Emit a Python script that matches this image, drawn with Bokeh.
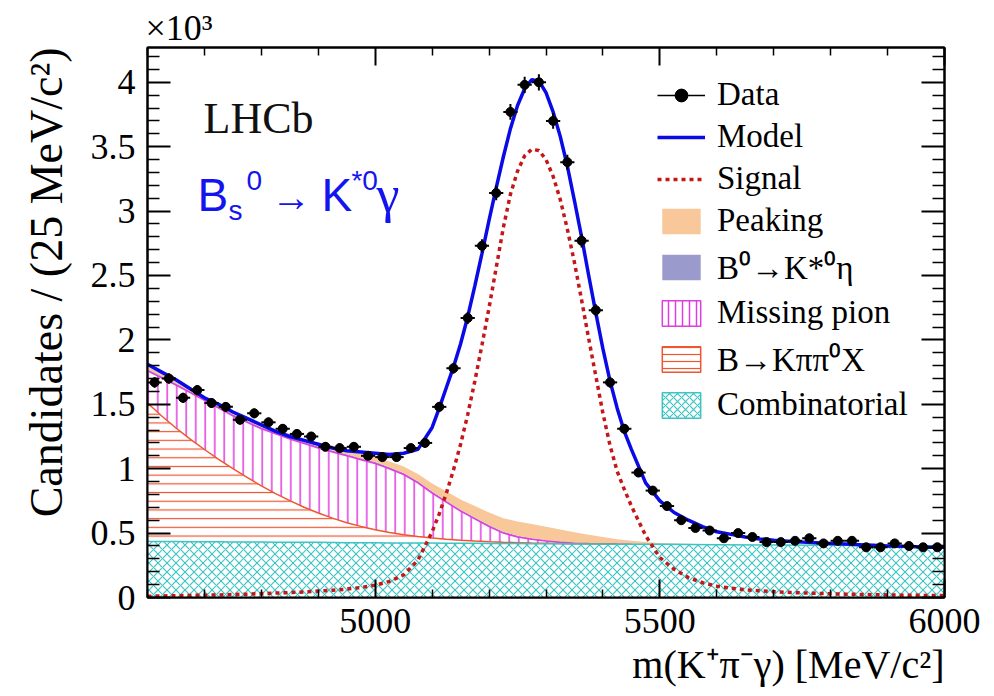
import numpy as np
from bokeh.plotting import figure
from bokeh.models import (ColumnDataSource, FixedTicker, LinearAxis, Range1d, Legend,
                          LegendItem, Label, Title, PrintfTickFormatter)
from bokeh.embed import file_html
from bokeh.resources import INLINE

# ---------------- data (candidates per 25 MeV/c^2, in units of 10^3) ----------------
bin_width = 25.0
bin_centers = np.arange(4612.5, 6000.0, bin_width)
data_counts = [1.67, 1.70, 1.55, 1.61, 1.51, 1.48, 1.38, 1.43, 1.36, 1.31,
               1.27, 1.25, 1.17, 1.16, 1.17, 1.10, 1.09, 1.09, 1.16, 1.20,
               1.48, 1.78, 2.17, 2.73, 3.14, 3.77, 3.98, 4.00, 3.70, 3.38,
               2.77, 2.23, 1.67, 1.31, 0.97, 0.83, 0.71, 0.60, 0.54, 0.52,
               0.46, 0.50, 0.47, 0.43, 0.43, 0.44, 0.46, 0.42, 0.44, 0.44,
               0.39, 0.39, 0.42, 0.40, 0.39, 0.39]

# total model and signal curves
curve_mass = (list(np.arange(4600.0, 5100.1, 25.0)) + list(np.arange(5112.5, 5437.6, 12.5))
              + list(np.arange(5450.0, 6000.1, 25.0)))
model_k = [1.81, 1.75, 1.69, 1.62, 1.55, 1.50, 1.44, 1.39, 1.34, 1.29,
           1.25, 1.22, 1.19, 1.16, 1.14, 1.13, 1.12, 1.11, 1.12, 1.15, 1.32,
           1.47, 1.63, 1.79, 1.97, 2.18, 2.42, 2.67, 2.93, 3.18, 3.42, 3.64, 3.82, 3.95,
           4.02, 4.01, 3.92, 3.77, 3.58, 3.35, 3.08, 2.80, 2.50, 2.21, 1.93, 1.68, 1.47, 1.29,
           1.15, 0.89, 0.75, 0.66, 0.60, 0.55, 0.51, 0.49, 0.47, 0.455, 0.445, 0.437,
           0.430, 0.425, 0.420, 0.415, 0.410, 0.405, 0.400, 0.397, 0.394, 0.391, 0.390]
signal_k = [0.010, 0.012, 0.014, 0.016, 0.018, 0.020, 0.023, 0.026, 0.030, 0.034,
            0.038, 0.043, 0.050, 0.056, 0.065, 0.078, 0.095, 0.125, 0.175, 0.290, 0.510,
            0.650, 0.810, 0.990, 1.190, 1.420, 1.680, 1.960, 2.250, 2.560, 2.870, 3.130, 3.310, 3.430,
            3.480, 3.470, 3.400, 3.270, 3.090, 2.860, 2.600, 2.310, 2.010, 1.720, 1.430, 1.180, 0.980, 0.840,
            0.710, 0.480, 0.310, 0.220, 0.155, 0.115, 0.088, 0.072, 0.060, 0.052, 0.045, 0.040,
            0.036, 0.032, 0.029, 0.026, 0.024, 0.022, 0.020, 0.018, 0.017, 0.016, 0.015]

# background components (each its own contribution, stacked in the plot)
bkg_mass = list(np.arange(4600.0, 5500.1, 25.0)) + [5600.0, 5700.0, 5800.0, 5900.0, 6000.0]
comb_k = [0.435, 0.434, 0.434, 0.433, 0.432, 0.432, 0.431, 0.431, 0.430, 0.429,
          0.429, 0.428, 0.428, 0.427, 0.426, 0.426, 0.425, 0.424, 0.424, 0.423,
          0.423, 0.422, 0.421, 0.421, 0.420, 0.419, 0.419, 0.418, 0.418, 0.417,
          0.416, 0.416, 0.415, 0.414, 0.414, 0.413, 0.413,
          0.410, 0.408, 0.405, 0.403, 0.400]
kpipi_k = [1.075, 0.975, 0.882, 0.797, 0.717, 0.641, 0.569, 0.501, 0.437, 0.378,
           0.323, 0.273, 0.228, 0.189, 0.155, 0.126, 0.101, 0.081, 0.064, 0.050,
           0.039, 0.030, 0.023, 0.017, 0.013, 0.010, 0.007, 0.005, 0.004, 0.003,
           0.002, 0.001, 0.001, 0.0, 0.0, 0.0, 0.0,
           0.0, 0.0, 0.0, 0.0, 0.0]
misspi_k = [0.250, 0.296, 0.334, 0.360, 0.381, 0.397, 0.410, 0.428, 0.443, 0.463,
            0.478, 0.494, 0.504, 0.514, 0.519, 0.518, 0.514, 0.495, 0.467, 0.417,
            0.348, 0.288, 0.226, 0.172, 0.117, 0.071, 0.044, 0.029, 0.016, 0.008,
            0.004, 0.002, 0.001, 0.001, 0.0, 0.0, 0.0,
            0.0, 0.0, 0.0, 0.0, 0.0]
keta_k = [0.012, 0.012, 0.012, 0.012, 0.012, 0.012, 0.012, 0.012, 0.012, 0.012,
          0.012, 0.012, 0.012, 0.012, 0.012, 0.012, 0.012, 0.012, 0.012, 0.012,
          0.012, 0.012, 0.012, 0.012, 0.012, 0.011, 0.010, 0.008, 0.007, 0.005,
          0.004, 0.003, 0.002, 0.001, 0.001, 0.0, 0.0,
          0.0, 0.0, 0.0, 0.0, 0.0]
peaking_k = [0.020, 0.020, 0.020, 0.020, 0.021, 0.022, 0.023, 0.024, 0.025, 0.026,
             0.027, 0.028, 0.030, 0.032, 0.034, 0.036, 0.040, 0.044, 0.050, 0.056,
             0.063, 0.070, 0.078, 0.088, 0.098, 0.105, 0.110, 0.110, 0.105, 0.095,
             0.080, 0.065, 0.050, 0.037, 0.026, 0.017, 0.010,
             0.002, 0.0, 0.0, 0.0, 0.0]

x_ticks = [5000, 5500, 6000]
x_tick_labels = ["5000", "5500", "6000"]
x_minor = [4600, 4700, 4800, 4900, 5100, 5200, 5300, 5400, 5600, 5700, 5800, 5900]
y_ticks = [0, 0.5, 1, 1.5, 2, 2.5, 3, 3.5, 4]
y_tick_labels = ["0", "0.5", "1", "1.5", "2", "2.5", "3", "3.5", "4"]
y_minor = [0.1, 0.2, 0.3, 0.4, 0.6, 0.7, 0.8, 0.9, 1.1, 1.2, 1.3, 1.4, 1.6, 1.7, 1.8, 1.9,
           2.1, 2.2, 2.3, 2.4, 2.6, 2.7, 2.8, 2.9, 3.1, 3.2, 3.3, 3.4, 3.6, 3.7, 3.8, 3.9, 4.1, 4.2]

legend_labels = ["Data", "Model", "Signal", "Peaking", "B\u2070\u2192K*\u2070\u03b7",
                 "Missing pion", "B\u2192K\u03c0\u03c0\u2070X", "Combinatorial"]

# ---------------- styling ----------------
SERIF = "Liberation Serif"
SANS = "Liberation Sans"
C_MODEL = "#0a0ae6"
C_SIGNAL = "#c41818"
C_PEAK = "#f8c79a"
C_ETA = "#9a9acc"
C_MPI = "#e03ce0"
C_KPP = "#ee5530"
C_COMB = "#3fc4c4"

p = figure(width=994, height=696, title=None,
           x_range=Range1d(4600, 6000), y_range=Range1d(0, 4.27),
           output_backend="svg", toolbar_location=None,
           min_border_left=147, min_border_right=50, min_border_top=47, min_border_bottom=99,
           background_fill_color="white", border_fill_color="white",
           outline_line_color="black", outline_line_width=2)
p.xgrid.visible = False
p.ygrid.visible = False

# stacked background
layers = np.array([comb_k, kpipi_k, misspi_k, keta_k, peaking_k])
cum = np.cumsum(layers, axis=0)
zeros = np.zeros(len(bkg_mass))
bsrc = ColumnDataSource(dict(m=bkg_mass, base=zeros, c1=cum[0], c2=cum[1], c3=cum[2],
                             c4=cum[3], c5=cum[4]))

p.varea(x="m", y1="base", y2="c1", source=bsrc, fill_color="white",
        hatch_pattern="diagonal_cross", hatch_color=C_COMB, hatch_scale=9, hatch_weight=1.2)
p.varea(x="m", y1="c1", y2="c2", source=bsrc, fill_color="white",
        hatch_pattern="horizontal_line", hatch_color=C_KPP, hatch_scale=8.7, hatch_weight=1.2)
p.varea(x="m", y1="c2", y2="c3", source=bsrc, fill_color="white",
        hatch_pattern="vertical_line", hatch_color=C_MPI, hatch_scale=9.5, hatch_weight=1.5)
p.varea(x="m", y1="c3", y2="c4", source=bsrc, fill_color=C_ETA)
p.varea(x="m", y1="c4", y2="c5", source=bsrc, fill_color=C_PEAK)

n_mpi = 35
n_kpp = 34
p.line(bkg_mass[:n_mpi], list(cum[2][:n_mpi]), line_color=C_MPI, line_width=1.5)
p.line(bkg_mass[:n_kpp], list(cum[1][:n_kpp]), line_color=C_KPP, line_width=1.5)
p.line(bkg_mass, list(cum[0]), line_color=C_COMB, line_width=1.5)

# signal and model
csrc = ColumnDataSource(dict(m=curve_mass, model=model_k, signal=signal_k))
sig_r = p.line(x="m", y="signal", source=csrc, line_color=C_SIGNAL, line_width=3.5,
               line_dash="4 4")
model_r = p.line(x="m", y="model", source=csrc, line_color=C_MODEL, line_width=3.5)

# data with error bars
counts = np.array(data_counts)
err = np.sqrt(counts * 1000.0) / 1000.0
dsrc = ColumnDataSource(dict(x=bin_centers, y=counts, ylo=counts - err, yhi=counts + err,
                             xlo=bin_centers - bin_width / 2, xhi=bin_centers + bin_width / 2))
p.segment(x0="x", y0="ylo", x1="x", y1="yhi", source=dsrc, line_color="black", line_width=2)
p.segment(x0="xlo", y0="y", x1="xhi", y1="y", source=dsrc, line_color="black", line_width=2)
p.scatter(x="x", y="y", source=dsrc, size=9, marker="circle", fill_color="black",
          line_color="black")

# legend proxies (not drawn in the frame)
nsrc = ColumnDataSource(dict(x=[np.nan], y=[np.nan]))
leg_line = p.line(x="x", y="y", source=nsrc, line_color="black", line_width=1.5)
leg_cross = p.scatter(x="x", y="y", source=nsrc, marker="cross", line_color="black", line_width=2)
leg_dot = p.scatter(x="x", y="y", source=nsrc, marker="circle", fill_color="black",
                    line_color="black")
leg_peak = p.patch(x="x", y="y", source=nsrc, fill_color=C_PEAK, line_color=None)
leg_eta = p.patch(x="x", y="y", source=nsrc, fill_color=C_ETA, line_color=None)
leg_mpi = p.patch(x="x", y="y", source=nsrc, fill_color="white", line_color=C_MPI, line_width=1.5,
                  hatch_pattern="vertical_line", hatch_color=C_MPI, hatch_scale=7, hatch_weight=1.5)
leg_kpp = p.patch(x="x", y="y", source=nsrc, fill_color="white", line_color=C_KPP, line_width=1.5,
                  hatch_pattern="horizontal_line", hatch_color=C_KPP, hatch_scale=7, hatch_weight=1.2)
leg_comb = p.patch(x="x", y="y", source=nsrc, fill_color="white", line_color=C_COMB, line_width=1.5,
                   hatch_pattern="diagonal_cross", hatch_color=C_COMB, hatch_scale=8, hatch_weight=1.2)

legend_renderers = [[leg_line, leg_cross, leg_dot], [model_r], [sig_r], [leg_peak], [leg_eta],
                    [leg_mpi], [leg_kpp], [leg_comb]]
legend = Legend(items=[LegendItem(label=lab, renderers=r) for lab, r in zip(legend_labels, legend_renderers)],
                location=(510, 174), glyph_width=48, glyph_height=32, label_height=32,
                label_standoff=12, spacing=5, padding=0, margin=0,
                border_line_color=None, background_fill_alpha=0,
                label_text_font=SERIF, label_text_font_size="33px", label_text_color="black")
p.add_layout(legend)

# axes
def style_axis(ax, major_in, minor_in):
    ax.axis_line_color = "black"
    ax.axis_line_width = 2
    ax.major_tick_in = major_in
    ax.major_tick_out = 0
    ax.minor_tick_in = minor_in
    ax.minor_tick_out = 0
    ax.major_tick_line_color = "black"
    ax.major_tick_line_width = 2
    ax.minor_tick_line_color = "black"
    ax.minor_tick_line_width = 1.5
    ax.major_label_text_font = SERIF
    ax.major_label_text_font_size = "36px"
    ax.major_label_text_color = "black"

xt = FixedTicker(ticks=x_ticks, minor_ticks=x_minor)
yt = FixedTicker(ticks=y_ticks, minor_ticks=y_minor)

xa = p.xaxis[0]
xa.ticker = xt
style_axis(xa, 18, 8)
xa.major_label_overrides = {t: s for t, s in zip(x_ticks, x_tick_labels)}
xa.major_label_standoff = 11

ya = p.yaxis[0]
ya.ticker = yt
style_axis(ya, 23, 12)
ya.formatter = PrintfTickFormatter(format="%g")
ya.major_label_overrides = {t: s for t, s in zip(y_ticks, y_tick_labels)}
ya.major_label_standoff = 12

top = LinearAxis(ticker=FixedTicker(ticks=x_ticks, minor_ticks=x_minor))
style_axis(top, 18, 8)
top.major_label_overrides = {t: "" for t in x_ticks}
top.major_label_standoff = 0
p.add_layout(top, "above")

right = LinearAxis(ticker=FixedTicker(ticks=y_ticks, minor_ticks=y_minor))
style_axis(right, 23, 12)
right.major_label_overrides = {t: "" for t in y_ticks}
right.major_label_standoff = 0
p.add_layout(right, "right")

# axis titles (stacked outside the axes)
p.add_layout(Title(text="m(K\u207a\u03c0\u207b\u03b3) [MeV/c\u00b2]", align="right",
                   text_font=SERIF, text_font_size="40px", text_font_style="normal",
                   text_color="black", standoff=9, offset=0), "below")
p.add_layout(Title(text="Candidates / (25 MeV/c\u00b2)", align="right",
                   text_font=SERIF, text_font_size="46px", text_font_style="normal",
                   text_color="black", standoff=32, offset=0), "left")
p.add_layout(Title(text="\u00d710\u00b3", align="left",
                   text_font=SERIF, text_font_size="36px", text_font_style="normal",
                   text_color="black", standoff=0, offset=-2), "above")

# annotations inside the frame
def add_label(x, y, text, font, size, color, style="normal"):
    p.add_layout(Label(x=x, y=y, text=text, text_font=font, text_font_size=size,
                       text_color=color, text_font_style=style, text_baseline="alphabetic",
                       text_align="left"))

add_label(4698.4, 3.720, "LHCb", SERIF, "44px", "#111111")
BLUE = "#1414ee"
add_label(4687.8, 3.123, "B", SANS, "46px", BLUE)
add_label(4742.3, 3.006, "s", SANS, "28px", BLUE)
add_label(4773.9, 3.239, "0", SANS, "28px", BLUE)
add_label(4817.0, 3.110, "\u2192", SANS, "40px", BLUE)
add_label(4905.6, 3.123, "K", SANS, "46px", BLUE)
add_label(4958.3, 3.239, "*0", SANS, "28px", BLUE)
add_label(5002.3, 3.130, "\u03b3", SERIF, "52px", BLUE)

open("out.html", "w").write(file_html(p, INLINE))
